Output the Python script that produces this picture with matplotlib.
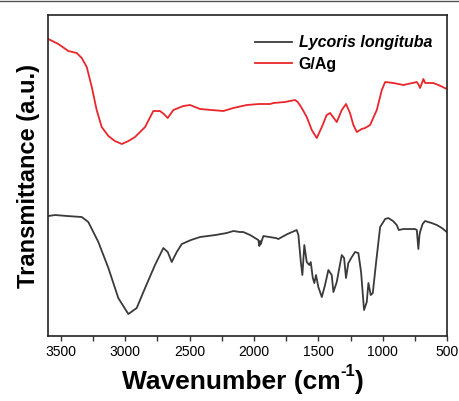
import matplotlib
matplotlib.use("Agg")
import matplotlib.pyplot as plt
from matplotlib.lines import Line2D
from matplotlib.ticker import MultipleLocator

plt.rcParams['font.family'] = ['Liberation Sans', 'DejaVu Sans']

# wavenumber (cm-1) and transmittance (a.u.)
ga_wn = [3598, 3520, 3442, 3377, 3338, 3299, 3260, 3222, 3183, 3131, 3080, 3027, 2975,
         2924, 2846, 2782, 2730, 2700, 2670, 2626, 2549, 2497, 2419, 2330, 2238, 2160,
         2056, 1960, 1875, 1849, 1760, 1681, 1660, 1629, 1590, 1551, 1512, 1473, 1435,
         1409, 1357, 1318, 1285, 1254, 1228, 1201, 1163, 1137, 1098, 1046, 1007, 981,
         917, 839, 735, 720, 710, 695, 684, 670, 606, 550, 502]
ga_t = [297, 292, 285, 283, 278, 269, 249, 226, 209, 200, 195, 192, 195,
        199, 209, 225, 225, 222, 218, 226, 230, 231, 227, 226, 225, 228,
        231, 232, 232, 233, 234, 236, 234, 228, 219, 206, 198, 209, 221,
        223, 214, 226, 232, 223, 211, 204, 207, 208, 211, 226, 246, 254,
        253, 251, 254, 251, 248, 253, 257, 253, 253, 250, 247]

ll_wn = [3598, 3546, 3450, 3338, 3287, 3209, 3131, 3054, 2976, 2911, 2846, 2769, 2704,
         2670, 2639, 2600, 2561, 2490, 2419, 2300, 2212, 2160, 2108, 2083, 2030, 1979,
         1966, 1958, 1953, 1947, 1935, 1927, 1880, 1830, 1810, 1797, 1740, 1668, 1655,
         1636, 1624, 1609, 1590, 1570, 1559, 1543, 1531, 1518, 1500, 1473, 1448, 1422,
         1396, 1383, 1357, 1337, 1318, 1300, 1285, 1267, 1240, 1215, 1189, 1168, 1145,
         1124, 1111, 1093, 1077, 1051, 1020, 981, 956, 920, 891, 875, 839, 800, 749,
         735, 723, 715, 710, 690, 671, 620, 580, 540, 502]
ll_t = [120, 121, 120, 119, 114, 94, 68, 38, 22, 28, 48, 71, 88,
        84, 74, 84, 92, 96, 99, 101, 103, 105, 104, 104, 101, 97,
        96, 90, 95, 92, 97, 100, 99, 98, 97, 98, 102, 106, 101,
        74, 61, 91, 74, 71, 74, 58, 53, 61, 49, 39, 51, 66,
        61, 44, 54, 68, 81, 78, 58, 73, 79, 84, 83, 64, 26,
        34, 53, 41, 43, 74, 109, 117, 118, 115, 111, 106, 107, 107, 107,
        106, 87, 100, 104, 112, 115, 113, 111, 108, 104]

fig = plt.figure(figsize=(4.59, 4.01), dpi=100)
ax = fig.add_axes([0.1046, 0.162, 0.8694, 0.8006])

ax.plot(ll_wn, ll_t, color='#3a3a3a', lw=1.3, label='Lycoris longituba',
        solid_joinstyle='round')
ax.plot(ga_wn, ga_t, color='#e8262b', lw=1.3, label='G/Ag', solid_joinstyle='round')

ax.set_xlim(3600, 500)
ax.set_ylim(0, 321)
ax.xaxis.set_major_locator(MultipleLocator(500))
ax.xaxis.set_minor_locator(MultipleLocator(250))
ax.tick_params(axis='x', which='both', direction='out', length=3.5, width=1,
               labelsize=10, pad=3, color='#333333')
ax.set_yticks([])
for s in ax.spines.values():
    s.set_linewidth(1.2)
    s.set_color('#222222')

ax.set_ylabel('Transmittance (a.u.)', fontsize=17, fontweight='bold', labelpad=6)

# x label built from pieces so the superscript keeps a plain hyphen
t1 = fig.text(122 / 459, 1 - 389 / 401, 'Wavenumber (cm', fontsize=19,
              fontweight='bold', ha='left', va='baseline')
t2 = ax.annotate('-1', xy=(1, 0.62), xycoords=t1, fontsize=12, fontweight='bold',
                 ha='left', va='bottom')
ax.annotate(')', xy=(1, 0), xycoords=(t2, t1), fontsize=19, fontweight='bold',
            ha='left', va='bottom')

leg = ax.legend(loc='upper right', frameon=False, fontsize=11.5, handlelength=2.3,
                handletextpad=0.4, labelspacing=0.4, borderaxespad=0.3,
                bbox_to_anchor=(0.99, 0.972))
txts = leg.get_texts()
txts[0].set_fontweight('bold')
txts[0].set_fontstyle('italic')
txts[1].set_fontweight('bold')

# thin border line at the very top of the picture
fig.add_artist(Line2D([0, 1], [0.997, 0.997], transform=fig.transFigure,
                      color='#555555', lw=1))

fig.savefig('out.png', dpi=100)
